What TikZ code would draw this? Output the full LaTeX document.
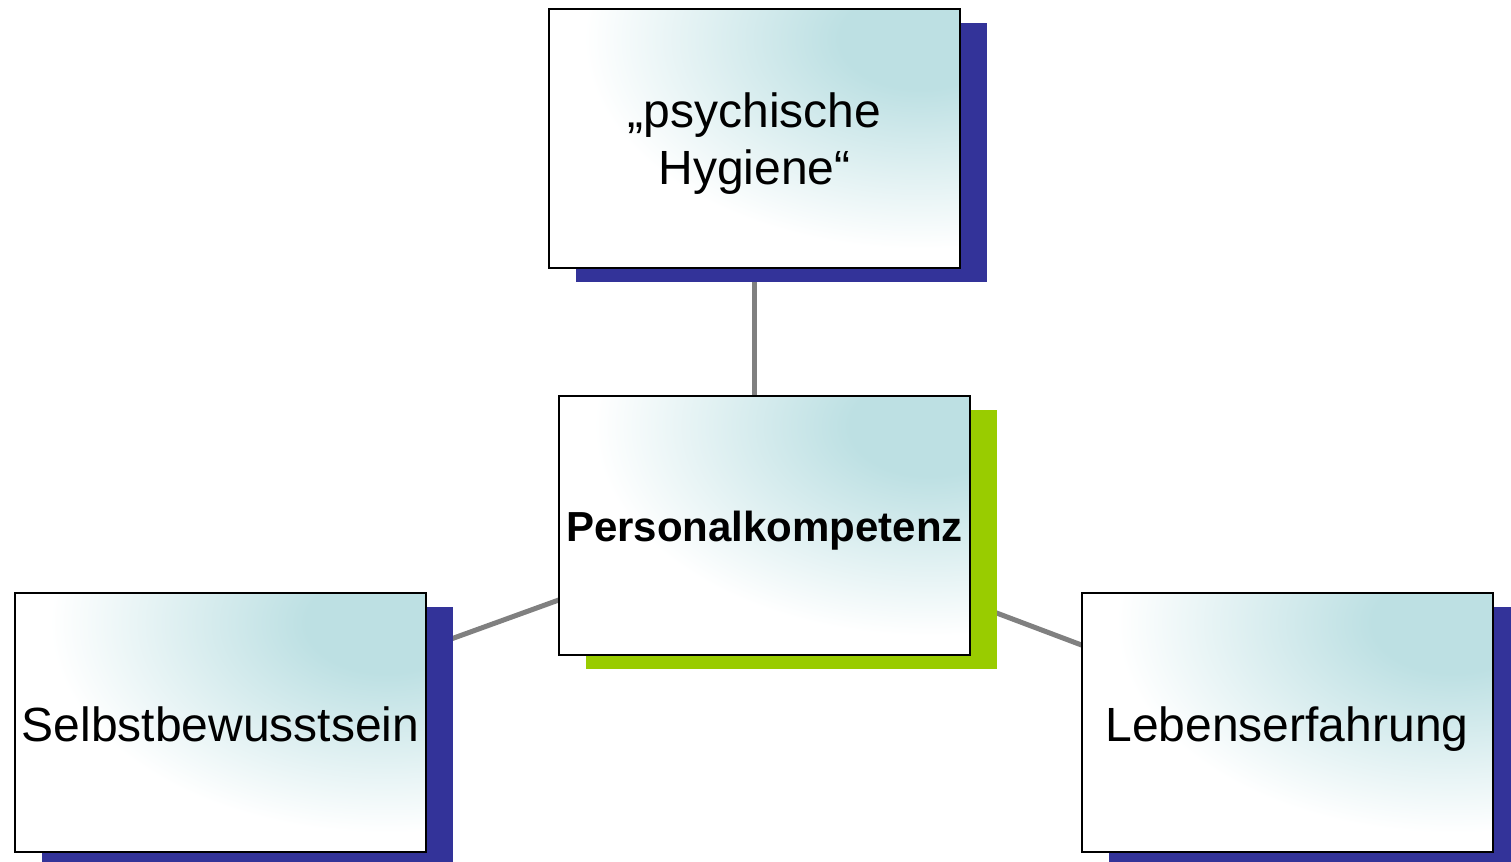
\documentclass[tikz,border=0pt]{standalone}
\usepackage{fontspec}
\setmainfont{Liberation Sans}
\usetikzlibrary{shadows,backgrounds,calc}
\definecolor{boxteal}{RGB}{189,224,227}
\definecolor{shadowblue}{RGB}{51,51,153}
\definecolor{shadowgreen}{RGB}{153,204,0}
\definecolor{linkgray}{RGB}{128,128,128}
\pgfdeclareradialshading{boxglow}{\pgfpoint{0bp}{0bp}}{color(0bp)=(boxteal); color(5bp)=(boxteal); color(21bp)=(white); color(50bp)=(white)}

\begin{document}
\begin{tikzpicture}[x=0.5pt,y=0.5pt,
    card/.style={draw=black, line width=1pt, fill=white,
      minimum width=205.5pt, minimum height=129.5pt, inner sep=0pt,
      align=center, font=\fontsize{24}{28.5}\selectfont, text depth=0pt,
      path picture={\shade[shading=boxglow]
        ($(path picture bounding box.north east)+(-440,220)$)
        rectangle ++(800,-500);},
      general shadow={fill=#1, shadow xshift=13.5pt, shadow yshift=-7pt}},
    card/.default=shadowblue,
    link/.style={draw=linkgray, line width=2.5pt}]

    % 0) Page frame
    \useasboundingbox (0,0) rectangle (1511,862);

    % 1) The four boxes
    \node[card] (hyg) at (754.5,723.5) {„psychische\\Hygiene“};
    \node[card=shadowgreen, font=\bfseries\fontsize{21}{25}\selectfont,
      text height=16.5pt] (pk) at (764.5,336.5) {Personalkompetenz};
    \node[card, text height=19pt] (sb) at (220.5,139.5) {Selbstbewusstsein};
    \node[card, text height=19pt] (le) at (1287,139.5) {Lebenserfahrung};

    % 2) Connectors behind the boxes
    \begin{scope}[on background layer]
      \draw[link] (hyg.center) -- (hyg.center |- pk.center);
      \draw[link] (pk.center) -- (sb.center);
      \draw[link] (pk.center) -- (le.center);
    \end{scope}
\end{tikzpicture}
\end{document}
